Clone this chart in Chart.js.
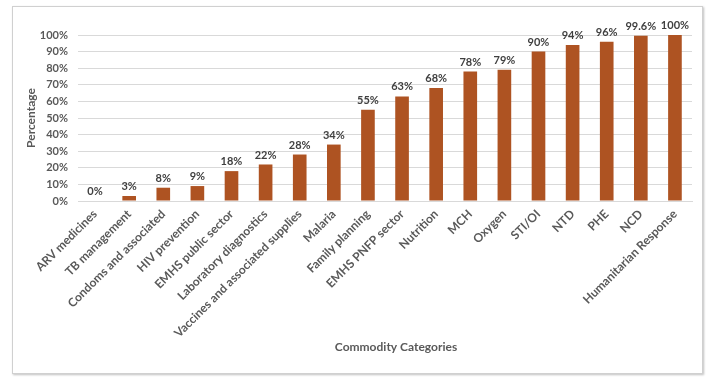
<!DOCTYPE html>
<html>
<head>
<meta charset="utf-8">
<script src="https://cdn.jsdelivr.net/npm/chart.js@4.4.1/dist/chart.umd.min.js"></script>
<style>
    html, body { margin: 0; padding: 0; background: #FFFFFF; }
    .chart-box { position: relative; width: 707px; height: 378px; }
    .chart-frame {
        position: absolute;
        left: 12px;
        top: 6px;
        width: 689px;
        height: 366px;
        border: 1px solid #D0D0D0;
        box-shadow: 1px 1px 2px rgba(0, 0, 0, 0.25);
    }
    canvas { position: absolute; left: 0; top: 0; }
</style>
</head>
<body>
<div class="chart-box">
    <div class="chart-frame"></div>
    <canvas id="commodityChart" width="707" height="378"></canvas>
</div>
<script>
const categories = [
    "ARV medicines",
    "TB management",
    "Condoms and associated",
    "HIV prevention",
    "EMHS public sector",
    "Laboratory diagnostics",
    "Vaccines and associated supplies",
    "Malaria",
    "Family planning",
    "EMHS PNFP sector",
    "Nutrition",
    "MCH",
    "Oxygen",
    "STI/OI",
    "NTD",
    "PHE",
    "NCD",
    "Humanitarian Response"
];
const percentages = [0, 3, 8, 9, 18, 22, 28, 34, 55, 63, 68, 78, 79, 90, 94, 96, 99.6, 100];
const yTicks = [0, 10, 20, 30, 40, 50, 60, 70, 80, 90, 100];

const fontFamily = "'Lato', 'Open Sans', sans-serif";
const labelGray = "#595959";

// value labels above each bar, plus the x title (Excel centres it a bit right of the plot)
const barLabels = {
    id: "barLabels",
    afterDatasetsDraw(chart) {
        const ctx = chart.ctx;
        const meta = chart.getDatasetMeta(0);
        ctx.save();
        ctx.font = "bold 11px " + fontFamily;
        ctx.fillStyle = "#404040";
        ctx.textAlign = "center";
        ctx.textBaseline = "bottom";
        meta.data.forEach((bar, i) => {
            ctx.fillText(percentages[i] + "%", bar.x, bar.y - 4);
        });
        ctx.font = "bold 12px " + fontFamily;
        ctx.fillStyle = labelGray;
        ctx.textBaseline = "middle";
        ctx.fillText("Commodity Categories", 396, 347);
        ctx.restore();
    }
};

new Chart(document.getElementById("commodityChart").getContext("2d"), {
    type: "bar",
    data: {
        labels: categories,
        datasets: [{
            label: "Percentage",
            data: percentages,
            backgroundColor: "#AE5322",
            barPercentage: 0.4,
            categoryPercentage: 1.0
        }]
    },
    options: {
        responsive: false,
        animation: false,
        layout: {
            padding: { top: 35, left: 20, right: 15, bottom: 20 }
        },
        plugins: {
            legend: { display: false },
            tooltip: { enabled: false }
        },
        scales: {
            x: {
                grid: { display: false, drawTicks: false },
                border: { color: "#D9D9D9" },
                ticks: {
                    color: labelGray,
                    font: { family: fontFamily, size: 12, weight: "bold" },
                    minRotation: 45,
                    maxRotation: 45,
                    autoSkip: false,
                    padding: 6
                },
                afterFit(scale) {
                    scale.height = 157;
                }
            },
            y: {
                min: 0,
                max: 100,
                afterBuildTicks(scale) {
                    scale.ticks = yTicks.map((v) => ({ value: v }));
                },
                border: { display: false },
                grid: { color: "#D9D9D9", drawTicks: false },
                ticks: {
                    color: labelGray,
                    font: { family: fontFamily, size: 11, weight: "bold" },
                    padding: 10,
                    autoSkip: false,
                    callback: (v) => v + "%"
                },
                title: {
                    display: true,
                    text: "Percentage",
                    color: labelGray,
                    font: { family: fontFamily, size: 12, weight: "bold" }
                },
                afterFit(scale) {
                    scale.width = 58;
                }
            }
        }
    },
    plugins: [barLabels]
});
</script>
</body>
</html>
